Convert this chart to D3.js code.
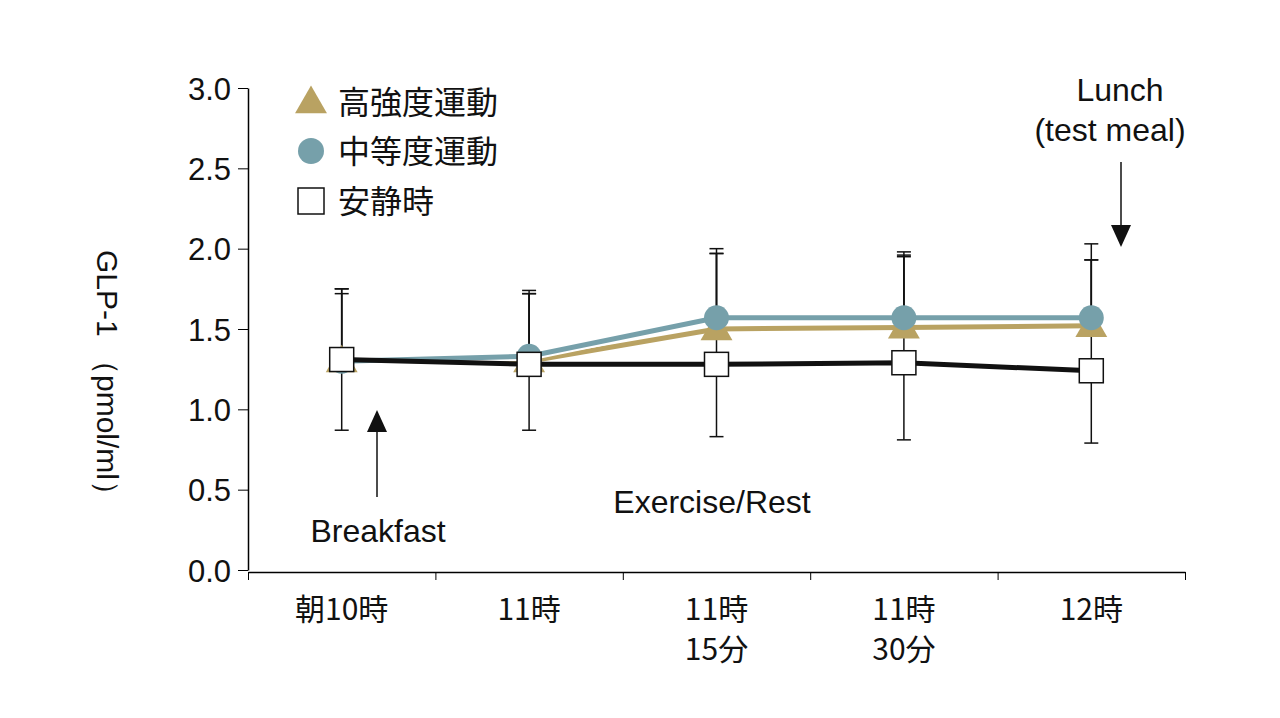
<!DOCTYPE html><html><head><meta charset="utf-8">
<script src="https://cdn.jsdelivr.net/npm/d3@7"></script>
<style>body{margin:0;background:#fff}text{font-family:"Noto Sans CJK JP","Liberation Sans",sans-serif;fill:#111}text.lat{font-family:"Liberation Sans",sans-serif}</style></head><body>
<svg id="c" width="1280" height="718"></svg>
<script>
const categories=[["朝10時"],["11時"],["11時","15分"],["11時","30分"],["12時"]];
const yTicks=[0,0.5,1.0,1.5,2.0,2.5,3.0];
const highVals=[1.30,1.30,1.50,1.51,1.52];
const highUp=[1.72,1.72,1.97,1.96,1.93];
const modVals=[1.30,1.33,1.57,1.57,1.57];
const modUp=[1.75,1.74,2.00,1.98,2.03];
const restVals=[1.31,1.28,1.28,1.29,1.24];
const restUp=[1.75,1.72,1.97,1.95,1.93];
const restLo=[0.87,0.87,0.83,0.81,0.79];
const legend=["高強度運動","中等度運動","安静時"];
const svg=d3.select("#c");
const x=d3.scaleBand().domain(d3.range(5)).range([248,1185]);
const cx=i=>x(i)+x.bandwidth()/2;
const y=d3.scaleLinear().domain([0,3]).range([570,88]);
const tan="#b9a262",teal="#76a0aa";
const ya=svg.append("g").attr("transform","translate(248,0)").call(d3.axisLeft(y).tickValues(yTicks).tickFormat(d3.format(".1f")).tickSize(10).tickSizeOuter(0));
ya.selectAll("text").attr("font-size",31).attr("class","lat").attr("dx",-4).attr("dy","0.36em");
ya.select(".domain").attr("stroke-width",1.5);
const xa=svg.append("g").attr("transform","translate(0,572)").call(d3.axisBottom(d3.scaleLinear().domain([0,5]).range([248,1185])).ticks(5).tickFormat("").tickSize(8).tickSizeOuter(0));
xa.select(".domain").attr("stroke-width",1.5);
categories.forEach((c,i)=>c.forEach((t,j)=>svg.append("text").attr("x",cx(i)).attr("y",620+j*40).attr("text-anchor","middle").attr("font-size",30).text(t)));
svg.append("text").attr("class","lat").attr("transform","translate(97,380) rotate(90)").attr("text-anchor","middle").attr("font-size",30).text("GLP-1 （pmol/ml）");
function eb(vals,up,lo){vals.forEach((v,i)=>{const X=cx(i);
 svg.append("line").attr("x1",X).attr("x2",X).attr("y1",y(v)).attr("y2",y(up[i])).attr("stroke","#111").attr("stroke-width",1.5);
 svg.append("line").attr("x1",X-7).attr("x2",X+7).attr("y1",y(up[i])).attr("y2",y(up[i])).attr("stroke","#111").attr("stroke-width",1.5);
 if(lo){svg.append("line").attr("x1",X).attr("x2",X).attr("y1",y(v)).attr("y2",y(lo[i])).attr("stroke","#111").attr("stroke-width",1.5);
 svg.append("line").attr("x1",X-7).attr("x2",X+7).attr("y1",y(lo[i])).attr("y2",y(lo[i])).attr("stroke","#111").attr("stroke-width",1.5);}});}
eb(highVals,highUp);eb(modVals,modUp);eb(restVals,restUp,restLo);
const line=d3.line().x((d,i)=>cx(i)).y(d=>y(d));
svg.append("path").attr("d",line(highVals)).attr("fill","none").attr("stroke",tan).attr("stroke-width",5);
const tri=d3.symbol().type(d3.symbolTriangle).size(440);
highVals.forEach((v,i)=>svg.append("path").attr("d",tri()).attr("transform",`translate(${cx(i)},${y(v)+2})`).attr("fill",tan));
svg.append("path").attr("d",line(modVals)).attr("fill","none").attr("stroke","#fff").attr("stroke-width",9);
svg.append("path").attr("d",line(modVals)).attr("fill","none").attr("stroke",teal).attr("stroke-width",5);
modVals.forEach((v,i)=>svg.append("circle").attr("cx",cx(i)).attr("cy",y(v)).attr("r",12.5).attr("fill",teal));
svg.append("path").attr("d",line(restVals)).attr("fill","none").attr("stroke","#111").attr("stroke-width",5);
restVals.forEach((v,i)=>svg.append("rect").attr("x",cx(i)-12).attr("y",y(v)-12).attr("width",24).attr("height",24).attr("fill","#fff").attr("stroke","#111").attr("stroke-width",1.5));
const ly=[102,151,201];
svg.append("path").attr("d",tri()).attr("transform",`translate(311,${ly[0]+2})`).attr("fill",tan);
svg.append("circle").attr("cx",311).attr("cy",ly[1]).attr("r",13).attr("fill",teal);
svg.append("rect").attr("x",298).attr("y",ly[2]-13).attr("width",26).attr("height",26).attr("fill","#fff").attr("stroke","#111").attr("stroke-width",1.5);
legend.forEach((t,i)=>svg.append("text").attr("x",338).attr("y",ly[i]+12).attr("font-size",32).text(t));
const ar=(x1,y1,y2)=>{svg.append("line").attr("x1",x1).attr("x2",x1).attr("y1",y1).attr("y2",y2>y1?y2-20:y2+20).attr("stroke","#111").attr("stroke-width",1.5);
 const d=y2>y1?1:-1;svg.append("path").attr("d",`M${x1-10},${y2-d*22}L${x1+10},${y2-d*22}L${x1},${y2}Z`).attr("fill","#111");};
ar(377,497,410);ar(1121,162,247);
const ft=(t,X,Y)=>svg.append("text").attr("class","lat").attr("x",X).attr("y",Y).attr("text-anchor","middle").attr("font-size",32).text(t);
ft("Breakfast",378,542);ft("Exercise/Rest",712,513);ft("Lunch",1120,101);ft("(test meal)",1110,141);
</script></body></html>
